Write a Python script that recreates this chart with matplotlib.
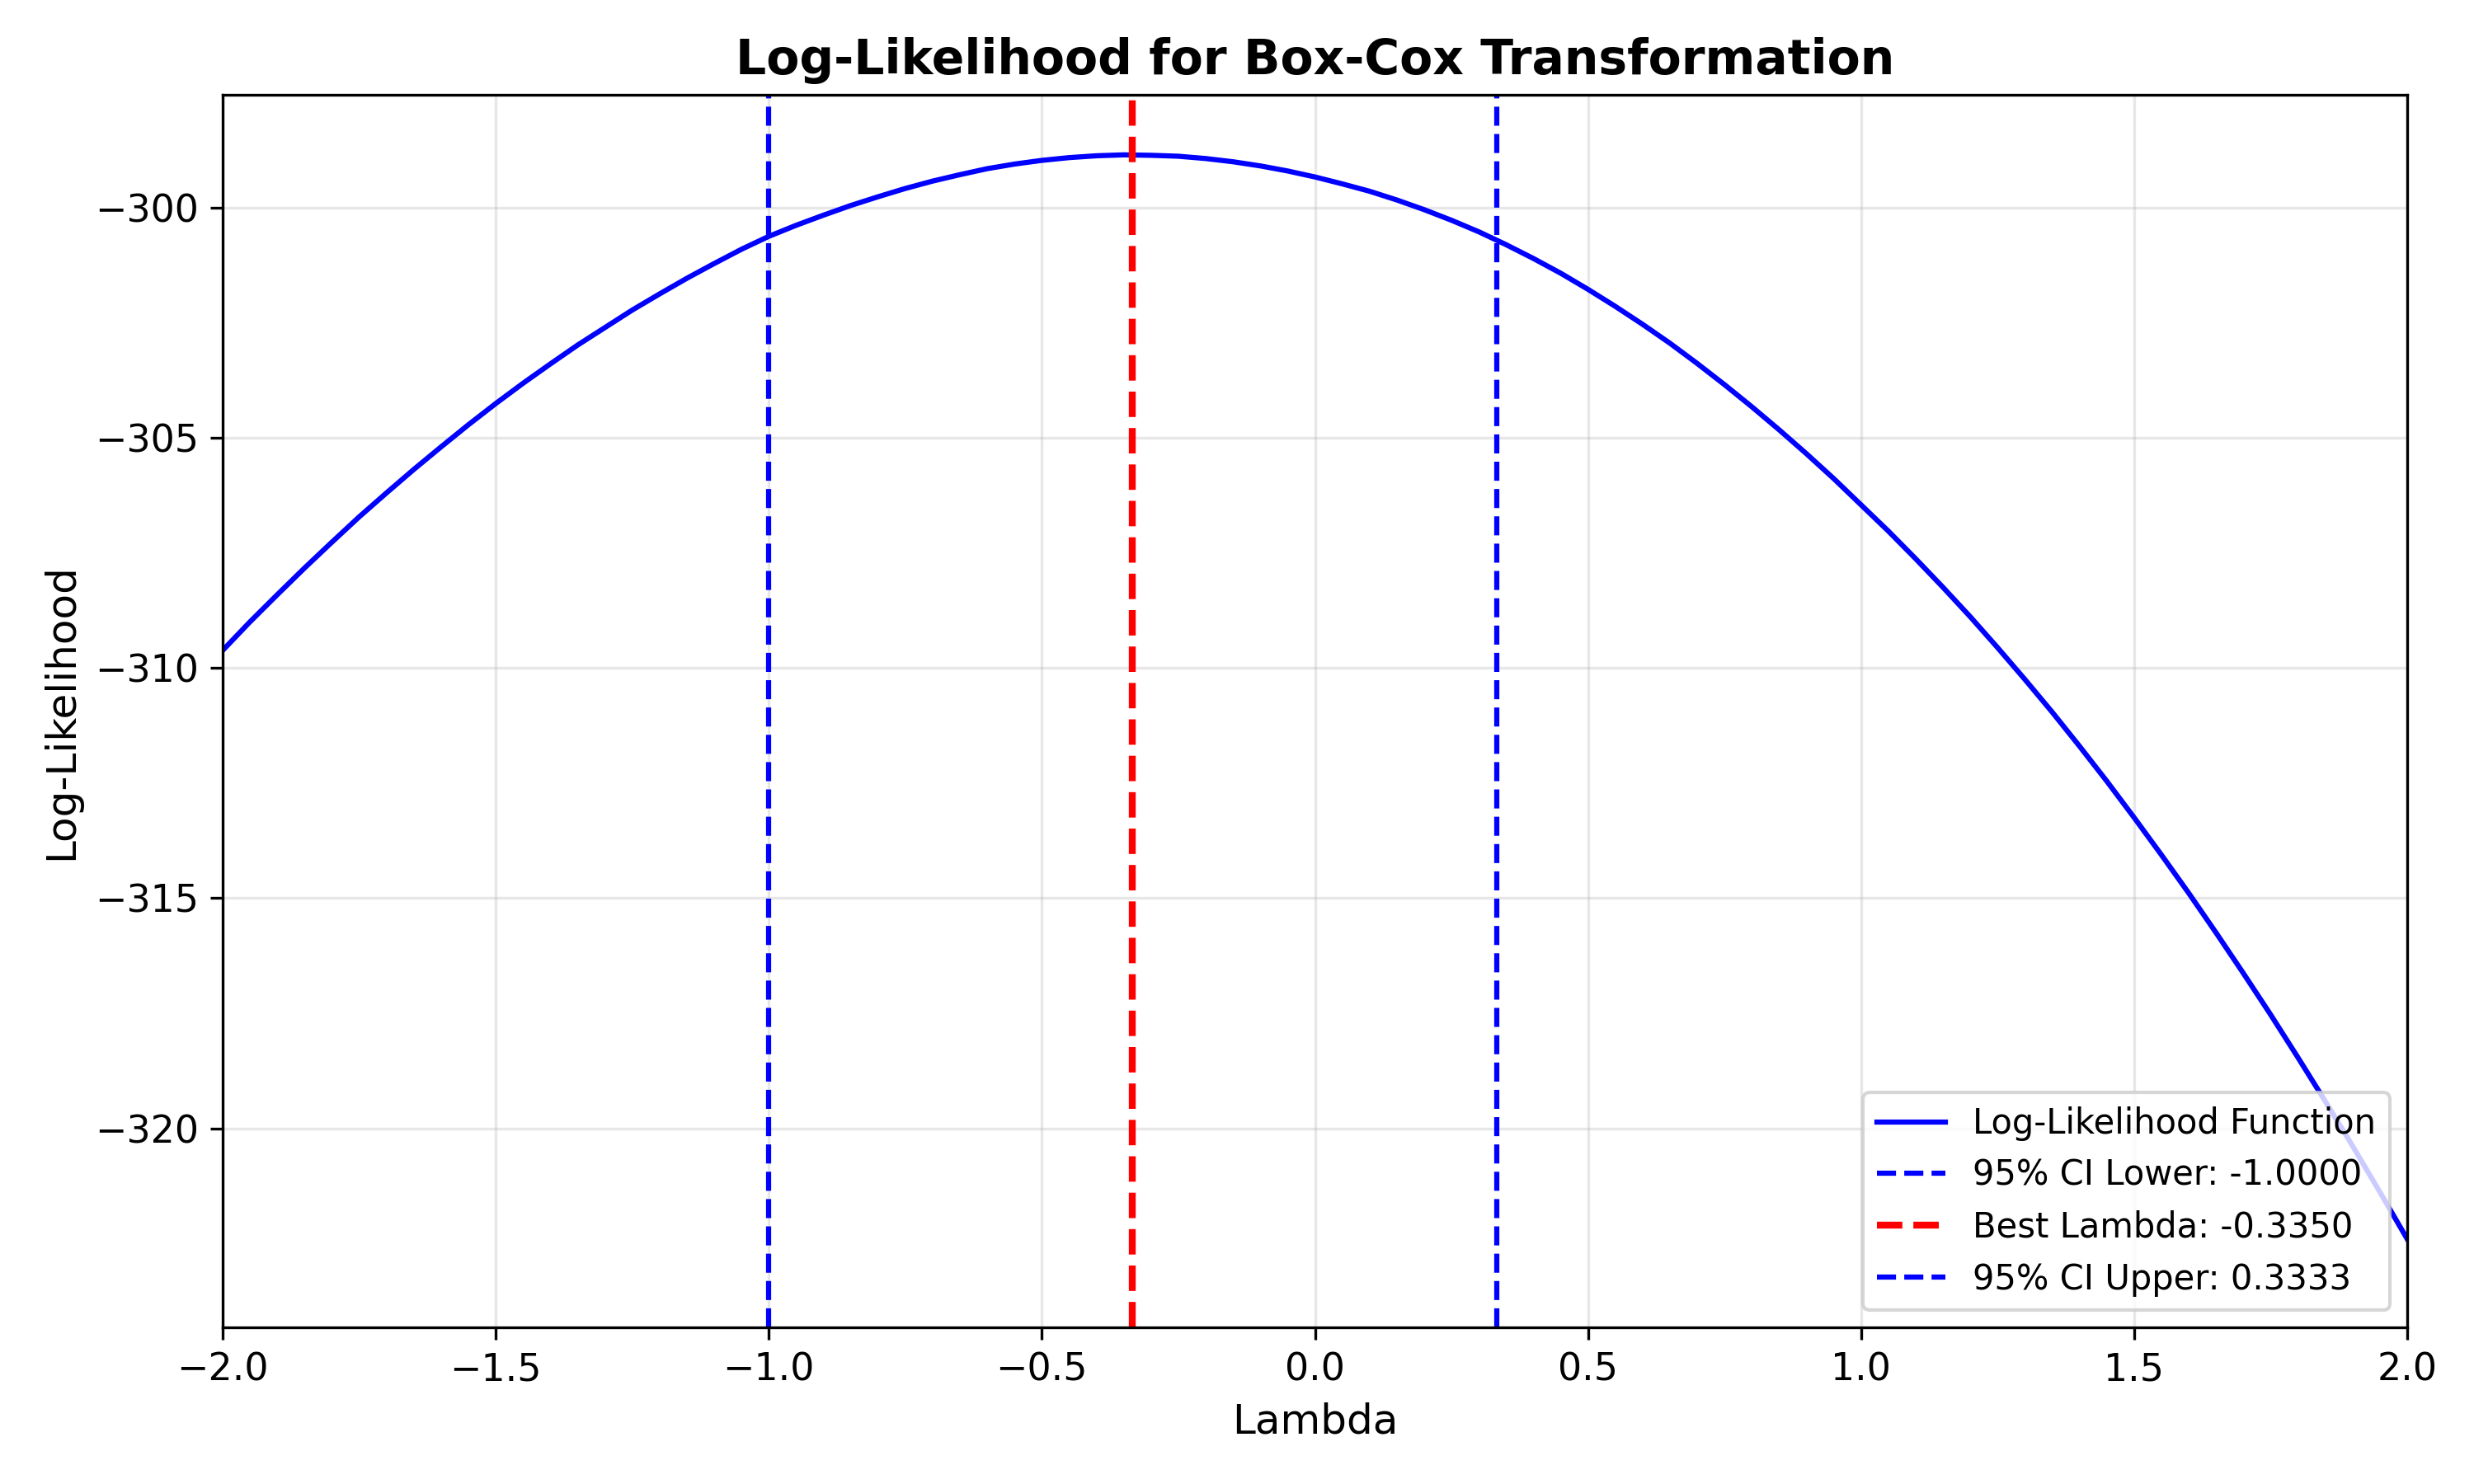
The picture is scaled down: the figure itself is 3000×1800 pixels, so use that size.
import matplotlib
matplotlib.use("Agg")
import matplotlib.pyplot as plt
import numpy as np

# Data (lambda grid from -2 to 2 in steps of 0.05)
lambdas = np.round(np.arange(-2.0, 2.0001, 0.05), 2)
log_likelihood = [
    -309.62, -309.00, -308.41, -307.83, -307.27, -306.72, -306.20, -305.69, -305.20, -304.72,
    -304.26, -303.82, -303.40, -302.99, -302.61, -302.23, -301.88, -301.54, -301.22, -300.91,
    -300.63, -300.39, -300.17, -299.96, -299.77, -299.59, -299.43, -299.29, -299.16, -299.06,
    -298.98, -298.92, -298.88, -298.86, -298.87, -298.89, -298.94, -299.01, -299.10, -299.21,
    -299.34, -299.49, -299.65, -299.84, -300.05, -300.28, -300.53, -300.81, -301.11, -301.43,
    -301.78, -302.15, -302.54, -302.95, -303.39, -303.85, -304.33, -304.83, -305.35, -305.89,
    -306.46, -307.03, -307.63, -308.25, -308.89, -309.56, -310.25, -310.96, -311.70, -312.46,
    -313.25, -314.06, -314.89, -315.75, -316.63, -317.53, -318.46, -319.41, -320.38, -321.38,
    -322.40,
]
ci_lower = -1.0000
best_lambda = -0.3350
ci_upper = 0.3333

title = "Log-Likelihood for Box-Cox Transformation"
xlabel = "Lambda"
ylabel = "Log-Likelihood"

fig, ax = plt.subplots(figsize=(10, 6), dpi=300)
fig.subplots_adjust(left=0.09, right=0.973, top=0.936, bottom=0.1055)

ax.plot(lambdas, log_likelihood, color="blue", linewidth=1.5, label="Log-Likelihood Function")
ax.axvline(ci_lower, color="blue", linestyle="--", linewidth=1.5, label=f"95% CI Lower: {ci_lower:.4f}")
ax.axvline(best_lambda, color="red", linestyle="--", linewidth=2, label=f"Best Lambda: {best_lambda:.4f}")
ax.axvline(ci_upper, color="blue", linestyle="--", linewidth=1.5, label=f"95% CI Upper: {ci_upper:.4f}")

ax.set_xlim(-2, 2)
ax.set_ylim(-324.32, -297.56)
ax.set_title(title, fontsize=14, fontweight="bold")
ax.set_xlabel(xlabel, fontsize=12)
ax.set_ylabel(ylabel, fontsize=12)
ax.tick_params(labelsize=11)
ax.grid(True, alpha=0.3)
ax.legend(loc="lower right", fontsize=10)

fig.savefig("out.png", dpi=300)
